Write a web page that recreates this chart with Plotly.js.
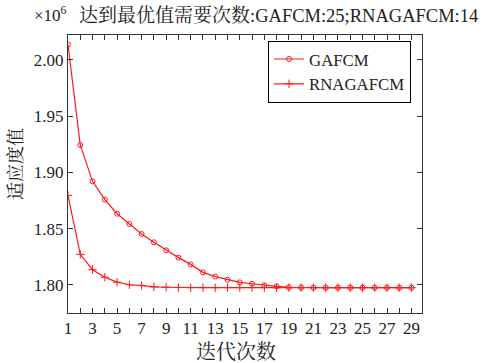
<!DOCTYPE html>
<html><head><meta charset="utf-8">
<script src="https://cdn.plot.ly/plotly-3.0.1.min.js"></script>
<style>html,body{margin:0;padding:0;background:#fff}#c{width:482px;height:363px}</style>
</head><body><div id="c"></div>
<script>
const iterations = [1,2,3,4,5,6,7,8,9,10,11,12,13,14,15,16,17,18,19,20,21,22,23,24,25,26,27,28,29];
const gafcm = [2.0135,1.9242,1.8920,1.8757,1.8632,1.8541,1.8452,1.8378,1.8307,1.8242,1.8182,1.8111,1.8073,1.8046,1.8022,1.8010,1.7996,1.7987,1.7979,1.7976,1.7975,1.7975,1.7975,1.7975,1.7975,1.7975,1.7975,1.7975,1.7975];
const rnagafcm = [1.8795,1.8271,1.8135,1.8068,1.8024,1.8001,1.7994,1.7982,1.7979,1.7976,1.7975,1.7975,1.7975,1.7975,1.7975,1.7975,1.7975,1.7975,1.7975,1.7975,1.7975,1.7975,1.7975,1.7975,1.7975,1.7975,1.7975,1.7975,1.7975];
const seriesNames = ['GAFCM','RNAGAFCM'];
const xTickLabels = [1,3,5,7,9,11,13,15,17,19,21,23,25,27,29];
const yTicks = [1.80,1.85,1.90,1.95,2.00];
const titleCn = '达到最优值需要次数';
const titleEn = ':GAFCM:25;RNAGAFCM:14';
const xTitle = '迭代次数';
const yTitle = '适应度值';

const F = '"Liberation Serif","Noto Serif CJK SC","Noto Sans CJK SC",serif';
const red = '#ff1a1a';
const ink = '#222';
const traces = [
  {x: iterations, y: gafcm, name: seriesNames[0], mode: 'lines+markers',
   line: {color: red, width: 1.2},
   marker: {symbol: 'circle-open', size: 5, color: red, line: {width: 1, color: red}}},
  {x: iterations, y: rnagafcm, name: seriesNames[1], mode: 'lines+markers',
   line: {color: red, width: 1.2},
   marker: {symbol: 'cross-thin-open', size: 6, color: red, line: {width: 1, color: red}}}
];
const layout = {
  width: 482, height: 363,
  margin: {l: 68, r: 60, t: 35, b: 50},
  paper_bgcolor: '#fff', plot_bgcolor: '#fff',
  font: {family: F, size: 17, color: ink},
  showlegend: true,
  legend: {x: 0.565, y: 0.98, xanchor: 'left', yanchor: 'top',
    bordercolor: '#000', borderwidth: 1, bgcolor: '#fff',
    font: {family: F, size: 16.8, color: ink}, tracegroupgap: 0},
  xaxis: {range: [1, 29.85], tickvals: xTickLabels,
    ticktext: xTickLabels.map(String),
    ticks: 'inside', ticklen: 5, tickwidth: 1, tickcolor: '#333',
    minor: {dtick: 1, tick0: 0, ticks: 'inside', ticklen: 5, tickwidth: 1, tickcolor: '#333', showgrid: false},
    showline: true, linecolor: '#333', linewidth: 1, mirror: 'ticks',
    showgrid: false, zeroline: false,
    tickfont: {family: F, size: 17, color: ink}},
  yaxis: {range: [1.775, 2.022], tickvals: yTicks,
    ticktext: yTicks.map(v => v.toFixed(2)),
    ticks: 'inside', ticklen: 5, tickwidth: 1, tickcolor: '#333',
    showline: true, linecolor: '#333', linewidth: 1, mirror: 'ticks',
    showgrid: false, zeroline: false,
    tickfont: {family: F, size: 17, color: ink}},
  annotations: [
    {xref: 'paper', yref: 'paper', x: -0.101, y: 1.0, yshift: 8, xanchor: 'left', yanchor: 'bottom',
     text: '×10<sup>6</sup>', showarrow: false, font: {family: F, size: 17, color: ink}},
    {xref: 'paper', yref: 'paper', x: 0.025, y: 1.0, yshift: 7, xanchor: 'left', yanchor: 'bottom',
     text: '<span style="font-size:19px">' + titleCn + '</span>' + titleEn, showarrow: false,
     font: {family: F, size: 18.5, color: ink}},
    {xref: 'paper', yref: 'paper', x: 0.4746, y: -0.140, xanchor: 'center', yanchor: 'middle',
     text: xTitle, showarrow: false, font: {family: F, size: 20, color: ink}},
    {xref: 'paper', yref: 'paper', x: -0.147, y: 0.536, xanchor: 'center', yanchor: 'middle',
     text: yTitle, textangle: -90, showarrow: false, font: {family: F, size: 18, color: ink}}
  ]
};
Plotly.newPlot('c', traces, layout, {displayModeBar: false, staticPlot: true});
</script></body></html>
